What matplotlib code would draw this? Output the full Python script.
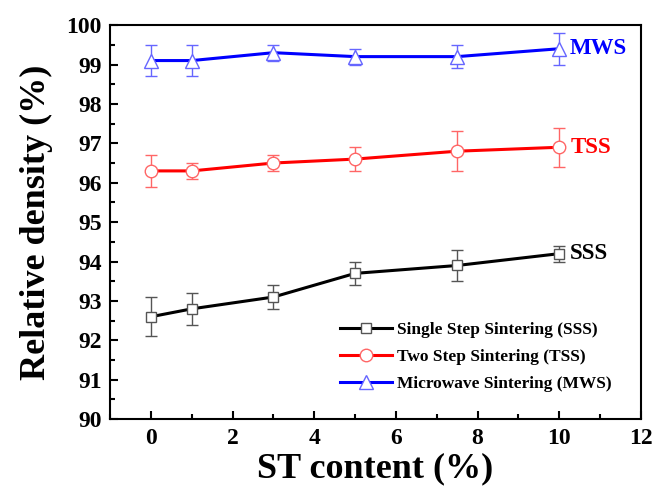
import matplotlib.pyplot as plt
from matplotlib.ticker import MultipleLocator

plt.rcParams.update({
    "font.family": "Liberation Serif",
    "font.weight": "bold",
    "axes.linewidth": 1.5,
})

st_content = [0, 1, 3, 5, 7.5, 10]

sss = [92.6, 92.8, 93.1, 93.7, 93.9, 94.2]
sss_err = [0.5, 0.4, 0.3, 0.3, 0.4, 0.2]
tss = [96.3, 96.3, 96.5, 96.6, 96.8, 96.9]
tss_err = [0.4, 0.2, 0.2, 0.3, 0.5, 0.5]
mws = [99.1, 99.1, 99.3, 99.2, 99.2, 99.4]
mws_err = [0.4, 0.4, 0.2, 0.2, 0.3, 0.4]

series = [
    (sss, sss_err, "s", 7.5, "black", "#555555", "Single Step Sintering (SSS)", "SSS"),
    (tss, tss_err, "o", 9, "red", "#ff6666", "Two Step Sintering (TSS)", "TSS"),
    (mws, mws_err, "^", 10, "blue", "#6666ff", "Microwave Sintering (MWS)", "MWS"),
]

fig = plt.figure(figsize=(6.64, 4.92), dpi=100)
ax = fig.add_axes([0.166, 0.148, 0.799, 0.801])

for y, err, mk, ms, col, ecol, label, tag in series:
    ax.errorbar(st_content, y, yerr=err, fmt="none", ecolor=ecol,
                elinewidth=1.0, capsize=4, capthick=1.0, zorder=2)
    ax.plot(st_content, y, color=col, lw=2.2, marker=mk, markersize=ms,
            markerfacecolor="white", markeredgecolor=ecol, markeredgewidth=1.0,
            label=label, zorder=3)
    ax.text(st_content[-1] + 0.27, y[-1], tag, color=col, fontsize=16.5,
            fontweight="bold", va="center", ha="left")

ax.set_xlim(-1, 12)
ax.set_ylim(90, 100)
ax.xaxis.set_major_locator(MultipleLocator(2))
ax.xaxis.set_minor_locator(MultipleLocator(1))
ax.yaxis.set_major_locator(MultipleLocator(1))
ax.yaxis.set_minor_locator(MultipleLocator(0.5))
ax.tick_params(which="both", direction="in", top=False, right=False,
               width=1.5, labelsize=17, pad=6)
ax.tick_params(which="major", length=6)
ax.tick_params(which="minor", length=3.5)

ax.set_xlabel("ST content (%)", fontsize=26, fontweight="bold", labelpad=3)
ax.set_ylabel("Relative density (%)", fontsize=26, fontweight="bold", labelpad=10)

ax.legend(loc="lower right", frameon=False, prop={"weight": "bold", "size": 12.5},
          handlelength=3.0, handletextpad=0.3, labelspacing=0.6,
          borderpad=0, borderaxespad=0, bbox_to_anchor=(0.945, 0.07))

fig.savefig("out.png", dpi=100)
